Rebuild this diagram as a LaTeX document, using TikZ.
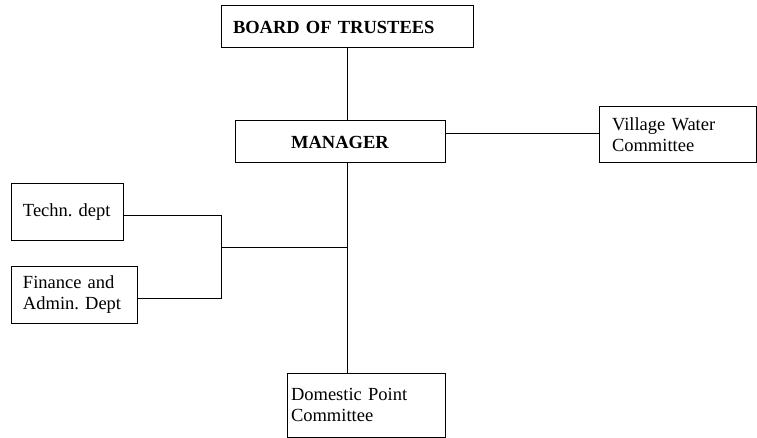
\documentclass[tikz,border=0pt]{standalone}
\usepackage{fontspec}
\setmainfont{Liberation Serif}
\frenchspacing
\begin{document}
\begin{tikzpicture}[x=1pt,y=-1pt,
  every node/.style={font=\fontsize{18.5}{21}\selectfont},
  box/.style={draw, line width=1pt, inner sep=0pt, outer sep=0pt, anchor=north west},
  link/.style={draw, line width=1pt}]
\useasboundingbox (0,0) rectangle (757,438);
% boxes: positions given as north west corners
\node[box, minimum width=252, minimum height=42, text width=228, align=left] (board) at (221,6) {\textbf{BOARD OF TRUSTEES}};
\node[box, minimum width=210, minimum height=42, align=center] (mgr) at (235,121) {\textbf{MANAGER}};
\node[box, minimum width=157, minimum height=56, text width=131, align=left] (vwc) at (599,107) {\mbox{Village Water}\\Committee};
\node[box, minimum width=112, minimum height=57, text width=88, align=left] (tech) at (11,184) {\mbox{Techn. dept}};
\node[box, minimum width=126, minimum height=57, text width=102, align=left] (fin) at (11,266) {\mbox{Finance and}\\\mbox{Admin. Dept}};
\node[box, minimum width=158, minimum height=64, text width=150, align=left] (dpc) at (287,373) {Domestic Point\\Committee};
% junctions
\coordinate (jx) at (221,248);
\coordinate (jm) at (347,248);
% connectors
\draw[link] (board.south -| 347,0) -- (mgr.north -| 347,0);
\draw[link] (mgr.east |- 0,134) -- (vwc.west |- 0,134);
\draw[link] (mgr.south -| 347,0) -- (dpc.north -| 347,0);
\draw[link] (tech.east |- 0,216) -- (221,216) -- (221,298) -- (fin.east |- 0,298);
\draw[link] (jx) -- (jm);
\end{tikzpicture}
\end{document}
